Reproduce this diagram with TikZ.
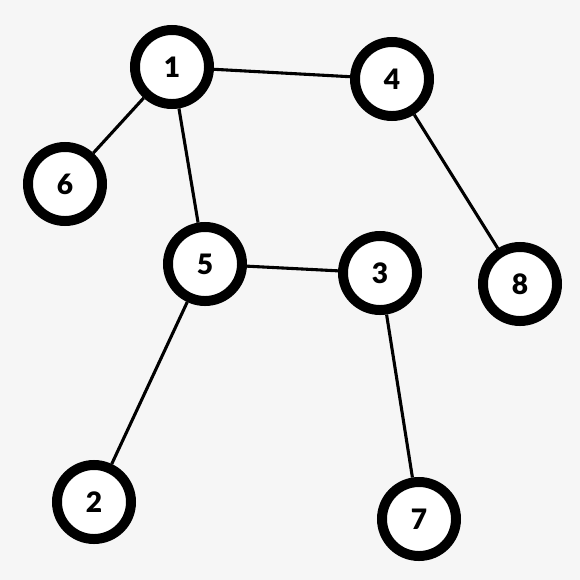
\documentclass[tikz,border=0pt]{standalone}
\usepackage{fontspec}
\setmainfont{Lato}
\newfontfamily\numfont{Lato Black}
\definecolor{bggray}{HTML}{F6F6F6}
\tikzset{
	vertex/.style={circle, draw=black, fill=white, line width=7.1pt, minimum size=1.85cm, inner sep=0pt, font=\fontsize{20}{24}\selectfont\numfont},
	edge/.style={line width=2.2pt}
}

\begin{document}
\begin{tikzpicture}[x=0.025cm, y=-0.025cm]
% Hintergrund
\fill[bggray] (0,0) rectangle (580,580);
\useasboundingbox (0,0) rectangle (580,580);

% Knoten
\node[vertex] (n1) at (172,67) {1};
\node[vertex] (n4) at (392,79) {4};
\node[vertex] (n6) at (65,184) {6};
\node[vertex] (n5) at (205,264) {5};
\node[vertex] (n3) at (380,273) {3};
\node[vertex] (n8) at (520,284) {8};
\node[vertex] (n2) at (94,502) {2};
\node[vertex] (n7) at (419,519) {7};

% Kanten
\begin{scope}[edge]
	\draw (n1) -- (n4);
	\draw (n1) -- (n6);
	\draw (n1) -- (n5);
	\draw (n4) -- (n8);
	\draw (n5) -- (n3);
	\draw (n5) -- (n2);
	\draw (n3) -- (n7);
\end{scope}
\end{tikzpicture}
\end{document}
